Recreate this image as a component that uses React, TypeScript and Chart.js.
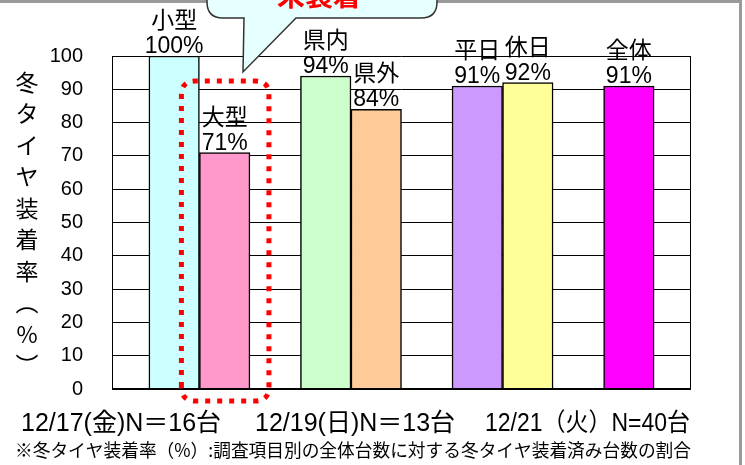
import React, { useEffect, useRef } from 'react';
import { Chart, registerables } from 'chart.js';

Chart.register(...registerables);

// ---- data ----
const categories = ['小型', '大型', '県内', '県外', '平日', '休日', '全体'];
const values = [100, 71, 94, 84, 91, 92, 91];
// slot of each bar along the x axis (empty slots separate the survey days)
const slots = [0, 1, 3, 4, 6, 7, 9];
const barColors = ['#CCFFFF', '#FF99CC', '#CCFFCC', '#FFCC99', '#CC99FF', '#FFFF99', '#FF00FF'];
const groupLabels = ['12/17(金)N＝16台', '12/19(日)N＝13台', '12/21（火）N=40台'];
const yTitleChars = ['冬', 'タ', 'イ', 'ヤ', '装', '着', '率', '︵', '%', '︶'];
const footnote = '※冬タイヤ装着率（%）:調査項目別の全体台数に対する冬タイヤ装着済み台数の割合';
const calloutText = '未装着';

const FONT = '"Liberation Sans", "Noto Sans CJK JP", sans-serif';
const CJK = '"Noto Sans CJK JP", "Liberation Sans", sans-serif';

const overlay = {
  id: 'overlay',
  afterDatasetsDraw(chart: any) {
    const { ctx, chartArea: ca } = chart;
    ctx.save();

    // bottom axis line (thicker) and right frame of plot
    ctx.strokeStyle = '#000';
    ctx.lineWidth = 2;
    ctx.beginPath();
    ctx.moveTo(ca.left, ca.bottom);
    ctx.lineTo(ca.right + 1, ca.bottom);
    ctx.stroke();
    ctx.lineWidth = 1;
    ctx.beginPath();
    ctx.moveTo(ca.right + 0.5, ca.top);
    ctx.lineTo(ca.right + 0.5, ca.bottom);
    ctx.stroke();

    // data labels
    const meta = chart.getDatasetMeta(0);
    ctx.fillStyle = '#000';
    ctx.textAlign = 'center';
    ctx.textBaseline = 'alphabetic';
    ctx.font = '23px ' + FONT;
    meta.data.forEach((bar: any, i: number) => {
      ctx.fillText(values[i] + '%', bar.x, bar.y - 3);
      ctx.fillText(categories[i], bar.x, bar.y - 28);
    });

    // dotted red highlight around 大型
    const big = meta.data[1];
    const l = big.x - big.width / 2 - 18;
    const r = big.x + big.width / 2 + 19;
    const t = ca.top + 25;
    const b = ca.bottom + 12;
    const rad = 14;
    ctx.strokeStyle = '#FF0000';
    ctx.lineWidth = 5;
    ctx.setLineDash([5, 7]);
    ctx.beginPath();
    ctx.moveTo(l, b - rad);
    ctx.lineTo(l, t + rad);
    ctx.quadraticCurveTo(l, t, l + rad, t);
    ctx.lineTo(r - rad, t);
    ctx.quadraticCurveTo(r, t, r, t + rad);
    ctx.lineTo(r, b - rad);
    ctx.quadraticCurveTo(r, b, r - rad, b);
    ctx.lineTo(l + rad, b);
    ctx.quadraticCurveTo(l, b, l, b - rad);
    ctx.stroke();
    ctx.setLineDash([]);

    // group labels under the axis
    ctx.fillStyle = '#000';
    ctx.textAlign = 'left';
    ctx.font = '25px ' + FONT;
    const gx = [21, 255, 485];
    groupLabels.forEach((g, i) => ctx.fillText(g, gx[i], 431, 205));

    // footnote
    ctx.font = '18px ' + CJK;
    ctx.fillText(footnote, 15, 457, 676);

    // vertical y-axis title
    ctx.textAlign = 'center';
    ctx.textBaseline = 'middle';
    ctx.font = '23px ' + CJK;
    yTitleChars.forEach((c, i) => ctx.fillText(c, 27, 82 + i * 31.5));

    // outer frame
    ctx.strokeStyle = '#9a9a9a';
    ctx.lineWidth = 3;
    ctx.beginPath();
    ctx.moveTo(0, 1.5);
    ctx.lineTo(740.5, 1.5);
    ctx.lineTo(740.5, 470);
    ctx.stroke();

    // callout
    const cl = 207, cr = 437, cb = 18, ct = -40, cr2 = 16;
    ctx.fillStyle = '#E6FFFF';
    ctx.strokeStyle = '#333';
    ctx.lineWidth = 1.5;
    ctx.beginPath();
    ctx.moveTo(cl, ct);
    ctx.lineTo(cl, cb - cr2);
    ctx.quadraticCurveTo(cl, cb, cl + cr2, cb);
    ctx.lineTo(244, cb);
    ctx.lineTo(243, 72);
    ctx.lineTo(296, cb);
    ctx.lineTo(cr - cr2, cb);
    ctx.quadraticCurveTo(cr, cb, cr, cb - cr2);
    ctx.lineTo(cr, ct);
    ctx.closePath();
    ctx.fill();
    ctx.stroke();
    ctx.fillStyle = '#FF0000';
    ctx.textAlign = 'center';
    ctx.textBaseline = 'alphabetic';
    ctx.font = 'bold 28px ' + CJK;
    ctx.fillText(calloutText, 319, 6);

    ctx.restore();
  },
};

export default function App() {
  const ref = useRef<HTMLCanvasElement | null>(null);
  useEffect(() => {
    if (!ref.current) return;
    const chart = new Chart(ref.current, {
      type: 'bar',
      data: {
        datasets: [
          {
            data: values.map((v, i) => ({ x: slots[i], y: v })),
            backgroundColor: barColors,
            borderColor: '#000',
            borderWidth: 1.5,
            categoryPercentage: 1,
            barPercentage: 1,
          },
        ],
      },
      options: {
        animation: false,
        responsive: true,
        maintainAspectRatio: false,
        layout: { padding: { top: 56, right: 55, bottom: 76, left: 0 } },
        plugins: { legend: { display: false }, tooltip: { enabled: false } },
        scales: {
          x: { type: 'linear', min: -1.23, max: 10.21, offset: false, display: false },
          y: {
            min: 0,
            max: 100,
            afterFit: (s: any) => {
              s.width = 112;
            },
            ticks: { stepSize: 10, padding: 29, color: '#000', font: { family: FONT, size: 20 } },
            grid: { color: '#000', lineWidth: 1, drawTicks: false },
            border: { display: true, color: '#000', width: 1 },
          },
        },
      },
      plugins: [overlay],
    } as any);
    return () => chart.destroy();
  }, []);
  return (
    <div style={{ position: 'fixed', left: 0, top: 0, width: 745, height: 465, background: '#fff' }}>
      <canvas ref={ref} />
    </div>
  );
}
